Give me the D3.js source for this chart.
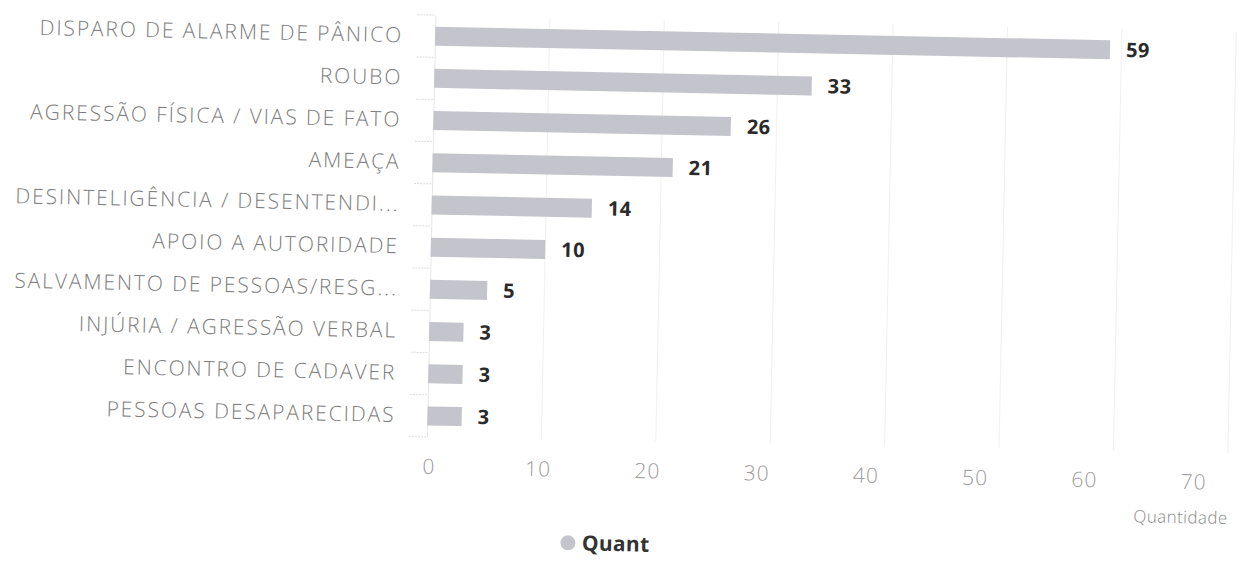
<!DOCTYPE html>
<html>
<head>
<meta charset="utf-8">
<script src="https://cdn.jsdelivr.net/npm/d3@7"></script>
<style>
  body { margin: 0; background: #fff; }
</style>
</head>
<body>
<div id="viz"></div>
<script>
const categories = [
    "DISPARO DE ALARME DE PÂNICO",
    "ROUBO",
    "AGRESSÃO FÍSICA / VIAS DE FATO",
    "AMEAÇA",
    "DESINTELIGÊNCIA / DESENTENDI...",
    "APOIO A AUTORIDADE",
    "SALVAMENTO DE PESSOAS/RESG...",
    "INJÚRIA / AGRESSÃO VERBAL",
    "ENCONTRO DE CADAVER",
    "PESSOAS DESAPARECIDAS"
];
const quant = [59, 33, 26, 21, 14, 10, 5, 3, 3, 3];
const xTicks = [0, 10, 20, 30, 40, 50, 60, 70];
const seriesName = "Quant";
const axisTitle = "Quantidade";

document.addEventListener("DOMContentLoaded", () => {

    const width = 1243;
    const height = 582;

    const svg = d3.select("#viz").append("svg")
        .attr("width", width)
        .attr("height", height)
        .style("display", "block");

    // the scanned page sits a little crooked
    const g = svg.append("g")
        .attr("transform", "rotate(1.15, 427, 437)");

    const x = d3.scaleLinear().domain([0, 70]).range([427, 1228]);
    const y = d3.scaleBand().domain(categories).range([15, 437]);

    // tick labels in the print run a bit tighter than the grid
    const xLabel = d3.scaleLinear().domain([0, 70]).range([429, 1194]);

    // grid
    g.append("g")
        .selectAll("line")
        .data(xTicks.slice(1))
        .enter()
        .append("line")
        .attr("x1", d => x(d))
        .attr("x2", d => x(d))
        .attr("y1", 15)
        .attr("y2", 437)
        .attr("stroke", "#f0f0f0")
        .attr("stroke-width", 1);

    // category axis
    const yAxis = g.append("g")
        .attr("transform", `translate(${x(0)},0)`)
        .call(d3.axisLeft(y).tickSize(0).tickPadding(32));
    yAxis.select(".domain").attr("stroke", "#e6e6e6");
    yAxis.selectAll("text")
        .attr("fill", "#7c7c7c")
        .style("font-family", "'Open Sans', sans-serif")
        .style("font-weight", "300")
        .style("font-size", "21px")
        .style("letter-spacing", "1.9px");

    g.append("g")
        .selectAll("line")
        .data(d3.range(categories.length + 1))
        .enter()
        .append("line")
        .attr("x1", x(0) - 18)
        .attr("x2", x(0))
        .attr("y1", i => 15 + i * y.step())
        .attr("y2", i => 15 + i * y.step())
        .attr("stroke", "#dcdcdc")
        .attr("stroke-dasharray", "2,1");

    // value axis labels
    const xAxis = g.append("g")
        .attr("transform", "translate(0,459)")
        .call(d3.axisBottom(xLabel).tickValues(xTicks).tickSize(0).tickPadding(0));
    xAxis.select(".domain").remove();
    xAxis.selectAll("text")
        .attr("fill", "#9a9a9a")
        .style("font-family", "'Open Sans', sans-serif")
        .style("font-weight", "300")
        .style("font-size", "21px")
        .style("letter-spacing", "1px");

    g.append("text")
        .attr("x", 1229)
        .attr("y", 502)
        .attr("dy", "0.35em")
        .attr("text-anchor", "end")
        .attr("fill", "#8a8a8a")
        .style("font-family", "'Open Sans', sans-serif")
        .style("font-weight", "300")
        .style("font-size", "17px")
        .style("letter-spacing", "0.4px")
        .text(axisTitle);

    // bars
    const barH = 19;
    g.append("g")
        .selectAll("rect")
        .data(quant)
        .enter()
        .append("rect")
        .attr("x", x(0))
        .attr("y", (d, i) => y(categories[i]) + y.bandwidth() / 2 - barH / 2)
        .attr("width", d => x(d) - x(0))
        .attr("height", barH)
        .attr("fill", "#c4c4cc");

    g.append("g")
        .selectAll("text")
        .data(quant)
        .enter()
        .append("text")
        .attr("x", d => x(d) + 16)
        .attr("y", (d, i) => y(categories[i]) + y.bandwidth() / 2)
        .attr("dy", "0.35em")
        .attr("fill", "#2a2a2a")
        .style("font-family", "'Open Sans', sans-serif")
        .style("font-weight", "700")
        .style("font-size", "20px")
        .style("letter-spacing", "0.5px")
        .text(d => d);

    // legend
    const legend = g.append("g").attr("transform", "translate(570,540)");
    legend.append("circle")
        .attr("r", 7.5)
        .attr("fill", "#c4c4cc");
    legend.append("text")
        .attr("x", 14)
        .attr("y", 0)
        .attr("dy", "0.35em")
        .attr("fill", "#333")
        .style("font-family", "'Open Sans', sans-serif")
        .style("font-weight", "700")
        .style("font-size", "21px")
        .style("letter-spacing", "0.3px")
        .text(seriesName);
});
</script>
</body>
</html>
